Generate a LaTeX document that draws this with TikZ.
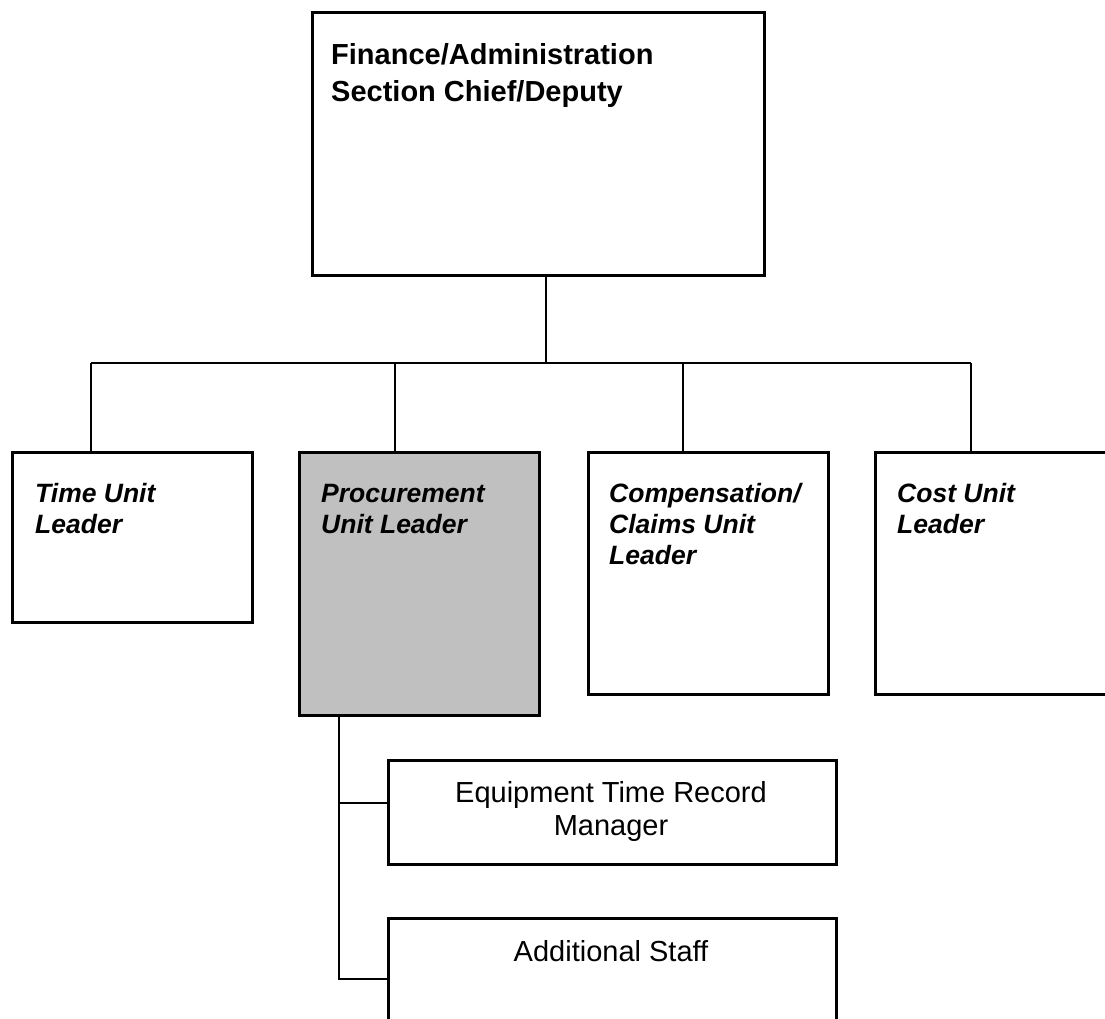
\documentclass[tikz,border=0pt]{standalone}
\usepackage{fontspec}
\setmainfont{Liberation Sans}
\usetikzlibrary{positioning}
\definecolor{procgray}{RGB}{192,192,192}

\begin{document}
\begin{tikzpicture}[
  x=1pt, y=-1pt,
  box/.style={draw, line width=2.7pt, inner sep=0, anchor=north west,
              minimum width=240pt},
  chief/.style={font=\fontsize{29}{37}\selectfont\bfseries, align=left,
                anchor=base west, inner sep=0},
  unit/.style={font=\fontsize{26.5}{31}\selectfont\bfseries\itshape,
               align=left, anchor=base west, inner sep=0},
  staff/.style={font=\fontsize{29}{33}\selectfont, align=center,
                anchor=base, inner sep=0},
  link/.style={line width=2.7pt}
]

\clip (0,0) rectangle (1105,1019);

% Section chief
\node[box, minimum width=452pt, minimum height=263pt] (chief) at (311,11) {};
\node[chief] (chief-text) at (331,102) {Finance/Administration\\Section Chief/Deputy};

% Unit leaders
\node[box, minimum height=170pt] (time) at (11,451) {};
\node[box, fill=procgray, minimum height=263pt] (proc) at (298,451) {};
\node[box, minimum height=242pt] (comp) at (587,451) {};
\node[box, minimum height=242pt] (cost) at (874,451) {};

\node[unit] (time-text) at (35,533) {Time Unit\\Leader};
\node[unit] (proc-text) at (321,533) {Procurement\\Unit Leader};
\node[unit] (comp-text) at (609,564) {Compensation/\\Claims Unit\\Leader};
\node[unit] (cost-text) at (897,533) {Cost Unit\\Leader};

% Procurement staff
\node[box, minimum width=448pt, minimum height=104pt] (equip) at (387,759) {};
\node[box, minimum width=448pt, minimum height=150pt] (addl) at (387,917) {};

\node[staff] (equip-text) at (611,835) {Equipment Time Record\\Manager};
\node[staff] (addl-text) at (611,961) {Additional Staff};

% Bus from chief down to the units
\coordinate (hub) at (546,363);
\coordinate (time-drop) at (91,363);
\coordinate (proc-drop) at (395,363);
\coordinate (comp-drop) at (683,363);
\coordinate (cost-drop) at (971,363);

\draw[link] (hub |- chief.south) -- (hub);
\draw[link] (time-drop) -- (cost-drop);
\foreach \u in {time, proc, comp, cost} {
  \draw[link] (\u-drop) -- (\u-drop |- \u.north);
}

% Spine under procurement
\coordinate (spine) at (339,979);
\coordinate (equip-tap) at (339,803);
\draw[link] (spine |- proc.south) -- (spine) -- (spine -| addl.west);
\draw[link] (equip-tap) -- (equip-tap -| equip.west);

\end{tikzpicture}
\end{document}
